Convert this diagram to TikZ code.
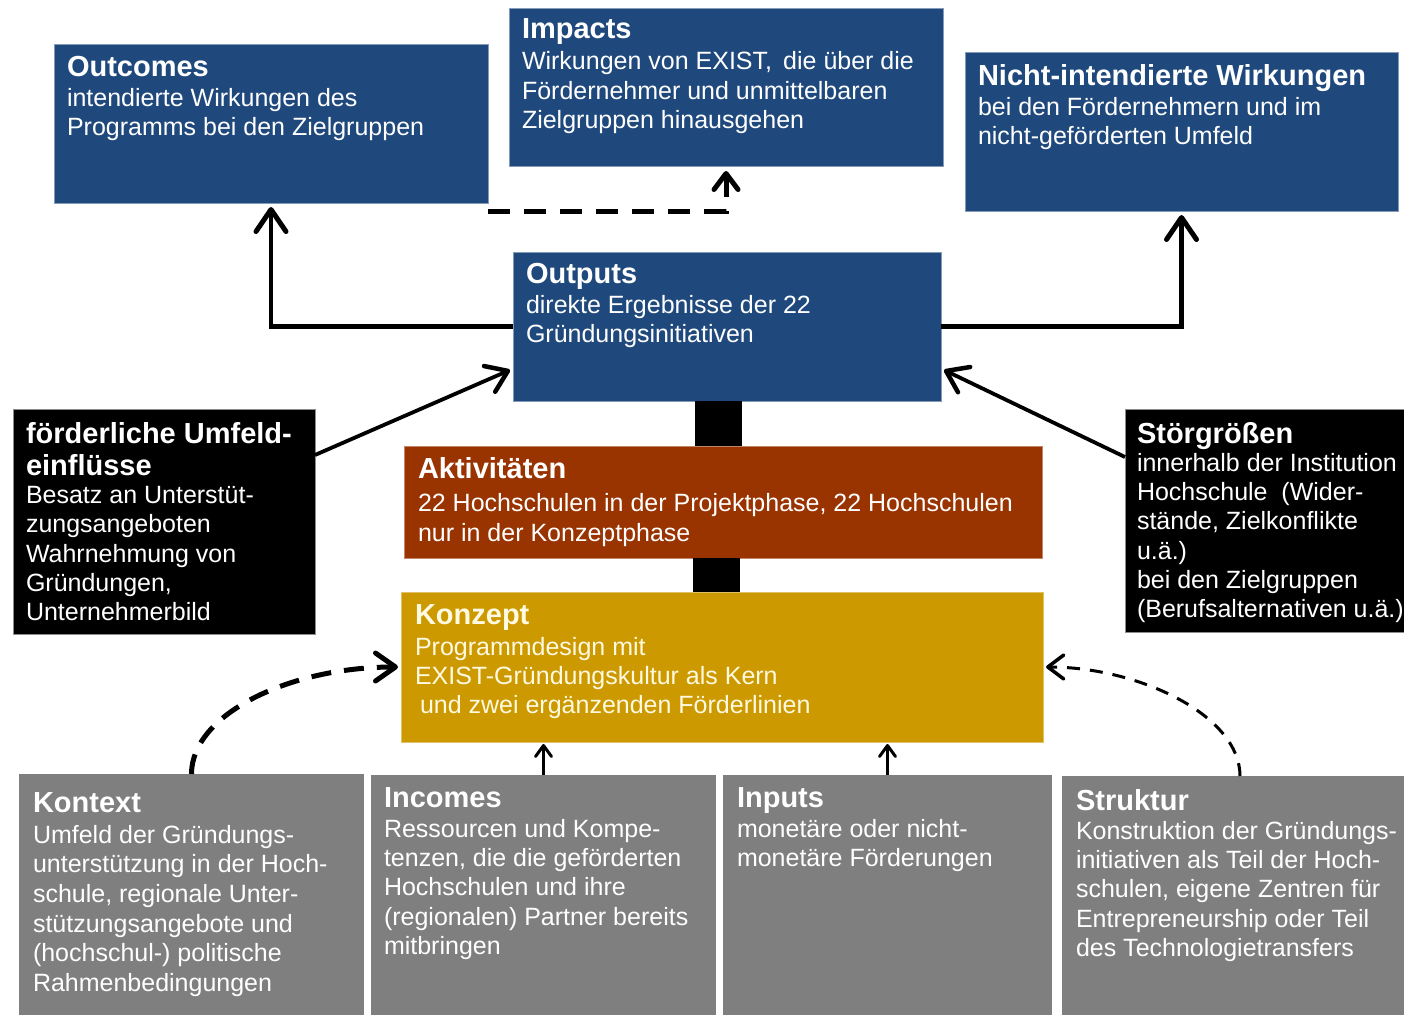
\documentclass[tikz,border=0pt]{standalone}
\usepackage{fontspec}
\setmainfont{Liberation Sans}
\usetikzlibrary{arrows.meta,calc}

\definecolor{progblue}{RGB}{31,73,125}
\definecolor{actbrown}{RGB}{153,51,0}
\definecolor{conceptgold}{RGB}{204,153,0}
\definecolor{basegrey}{RGB}{127,127,127}
\definecolor{conceptcream}{RGB}{255,250,225}

\newcommand{\bodyfont}{\fontsize{25}{29.3}\selectfont}
\newcommand{\hd}[1]{{\fontsize{29}{30}\selectfont\bfseries #1}}

\begin{document}
\begin{tikzpicture}[x=1pt,y=-1pt,
  panel/.style={rectangle, inner sep=0pt, outer sep=0pt, anchor=north west},
  bluepanel/.style={panel, fill=progblue, draw=progblue!55!white, line width=0.8pt},
  blackpanel/.style={panel, fill=black, draw=black!45!white, line width=0.8pt},
  actpanel/.style={panel, fill=actbrown, draw=actbrown!60!white, line width=0.8pt},
  conceptpanel/.style={panel, fill=conceptgold, draw=conceptgold!60!white, line width=0.8pt},
  greypanel/.style={panel, fill=basegrey},
  copy/.style={anchor=north west, inner sep=0pt, outer sep=0pt, align=left,
    text=white, font=\bodyfont},
  flow/.style={line width=4.5pt,
    -{Straight Barb[length=22pt,width=30pt,line width=5pt,round]}},
  slant/.style={line width=3.8pt,
    -{Straight Barb[length=20pt,width=28pt,line width=4.5pt,round]}},
  smallflow/.style={line width=2.6pt,
    -{Straight Barb[length=11pt,width=16pt,line width=3pt,round]}},
  dashflow/.style={line width=5pt, dash pattern=on 22pt off 14pt,
    -{Straight Barb[length=16pt,width=24pt,line width=5pt,round]}},
  dashcurveL/.style={line width=5pt, dash pattern=on 20pt off 13pt,
    -{Straight Barb[length=20pt,width=28pt,line width=5pt,round]}},
  dashcurveR/.style={line width=3pt, dash pattern=on 13pt off 10pt,
    -{Straight Barb[length=16pt,width=24pt,line width=3.5pt,round]}},
  bar/.style={line width=47pt, line cap=butt}
]
\useasboundingbox (0,0) rectangle (1404,1014);
\clip (0,0) rectangle (1404,1014);
\fill[white] (0,0) rectangle (1404,1014);

% ---- result level ----
\node[bluepanel, minimum width=434pt, minimum height=159pt] (outcomes) at (54,44) {};
\node[copy] (outcomesT) at (67,56) {\hd{Outcomes}\\[1pt]
  intendierte Wirkungen des\\
  Programms bei den Zielgruppen};

\node[bluepanel, minimum width=434pt, minimum height=158pt] (impacts) at (509,8) {};
\node[copy] (impactsT) at (522,19) {\hd{Impacts}\\[1.5pt]
  Wirkungen von EXIST,\, die über die\\
  Fördernehmer und unmittelbaren\\
  Zielgruppen hinausgehen};

\node[bluepanel, minimum width=433pt, minimum height=159pt] (nicht) at (965,52) {};
\node[copy] (nichtT) at (978,64) {\hd{Nicht-intendierte Wirkungen}\\[1pt]
  bei den Fördernehmern und im\\
  nicht-geförderten Umfeld};

\node[bluepanel, minimum width=428pt, minimum height=149pt] (outputs) at (513,252) {};
\node[copy] (outputsT) at (526,263) {\hd{Outputs}\\[1pt]
  direkte Ergebnisse der 22\\
  Gründungsinitiativen};

% ---- influences ----
\node[blackpanel, minimum width=302pt, minimum height=225pt] (foerd) at (13,409) {};
\node[copy] (foerdT) at (26,422) {\hd{förderliche Umfeld-}\\[3pt]
  \hd{einflüsse}\\[-1pt]
  Besatz an Unterstüt-\\
  zungsangeboten\\
  Wahrnehmung von\\
  Gründungen,\\
  Unternehmerbild};

\node[blackpanel, minimum width=300pt, minimum height=223pt] (stoer) at (1125,409) {};
\node[copy] (stoerT) at (1137,422) {\hd{Störgrößen}\\[-1pt]
  innerhalb der Institution\\
  Hochschule\ \ (Wider-\\
  stände, Zielkonflikte\\
  u.ä.)\\
  bei den Zielgruppen\\
  (Berufsalternativen u.ä.)};

% ---- programme ----
\node[actpanel, minimum width=638pt, minimum height=112pt] (akt) at (404,446) {};
\node[copy] (aktT) at (418,457) {\hd{Aktivitäten}\\[4pt]
  22 Hochschulen in der Projektphase, 22 Hochschulen\\[0.7pt]
  nur in der Konzeptphase};

\node[conceptpanel, minimum width=642pt, minimum height=150pt] (konzept) at (401,592) {};
\node[copy, text=conceptcream] (konzeptT) at (415,605) {\hd{Konzept}\\[1pt]
  Programmdesign mit\\
  EXIST-Gründungskultur als Kern\\
  \hspace*{5pt}und zwei ergänzenden Förderlinien};

% ---- preconditions ----
\node[greypanel, minimum width=345pt, minimum height=250pt] (kontext) at (19,774) {};
\node[copy] (kontextT) at (33,793) {\hd{Kontext}\\[1pt]
  Umfeld der Gründungs-\\[0.3pt]
  unterstützung in der Hoch-\\[0.3pt]
  schule, regionale Unter-\\[0.3pt]
  stützungsangebote und\\[0.3pt]
  (hochschul-) politische\\[0.3pt]
  Rahmenbedingungen};

\node[greypanel, minimum width=345pt, minimum height=250pt] (incomes) at (371,775) {};
\node[copy] (incomesT) at (384,788) {\hd{Incomes}\\[0pt]
  Ressourcen und Kompe-\\
  tenzen, die die geförderten\\
  Hochschulen und ihre\\
  (regionalen) Partner bereits\\
  mitbringen};

\node[greypanel, minimum width=329pt, minimum height=250pt] (inputs) at (723,775) {};
\node[copy] (inputsT) at (737,788) {\hd{Inputs}\\[0pt]
  monetäre oder nicht-\\
  monetäre Förderungen};

\node[greypanel, minimum width=356pt, minimum height=250pt] (struktur) at (1062,776) {};
\node[copy] (strukturT) at (1076,789) {\hd{Struktur}\\[0pt]
  Konstruktion der Gründungs-\\
  initiativen als Teil der Hoch-\\
  schulen, eigene Zentren für\\
  Entrepreneurship oder Teil\\
  des Technologietransfers};

% ---- connectors ----
\draw[flow] (outputs.west) -| ([yshift=-4pt]outcomes.south);
\draw[flow] (outputs.east) -| ([yshift=-4pt]nicht.south);
\draw[dashflow] ([yshift=-8pt]outcomes.south east) -| ([yshift=-5pt]impacts.south);

\draw[slant] ([yshift=-46pt]foerd.north east) -- ([yshift=31pt,xshift=-3pt]outputs.south west);
\draw[slant] ([yshift=-48pt]stoer.north west) -- ([yshift=31pt,xshift=3pt]outputs.south east);

\coordinate (barAtop) at ([xshift=-8.5pt]outputs.south);
\coordinate (barAbot) at (barAtop |- akt.north);
\draw[bar] (barAtop) -- (barAbot);
\coordinate (barBtop) at ([xshift=-7pt]akt.south);
\coordinate (barBbot) at (barBtop |- konzept.north);
\draw[bar] (barBtop) -- (barBbot);

\draw[smallflow] (incomes.north) -- ([yshift=-2pt]incomes.north |- konzept.south);
\draw[smallflow] (inputs.north) -- ([yshift=-2pt]inputs.north |- konzept.south);

\draw[dashcurveL] (kontext.north) .. controls ([yshift=60pt]kontext.north)
  and ([xshift=-111pt]konzept.west) .. ([xshift=-3pt]konzept.west);
\draw[dashcurveR] (struktur.north) .. controls ([yshift=61pt]struktur.north)
  and ([xshift=95pt]konzept.east) .. ([xshift=3pt]konzept.east);
\end{tikzpicture}
\end{document}
